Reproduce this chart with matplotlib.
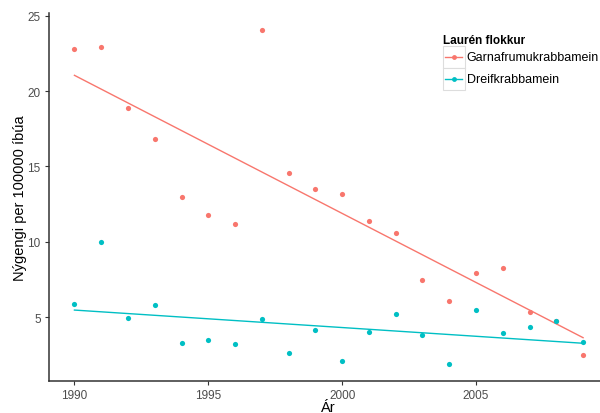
import numpy as np
import matplotlib
matplotlib.use("Agg")
import matplotlib.pyplot as plt
from matplotlib.lines import Line2D
from matplotlib.patches import Rectangle
from matplotlib.legend_handler import HandlerBase

plt.rcParams['font.family'] = ['Liberation Sans', 'DejaVu Sans']

years = list(range(1990, 2010))
garna = [22.8, 22.9, 18.85, 16.85, 13.0, 11.75, 11.17, 24.07, 14.55, 13.5,
         13.15, 11.37, 10.57, 7.48, 6.1, 7.92, 8.25, 5.37, 4.73, 2.52]
dreif = [5.9, 10.0, 4.98, 5.84, 3.3, 3.52, 3.23, 4.89, 2.63, 4.18,
         2.1, 4.05, 5.24, 3.85, 1.88, 5.46, 3.98, 4.38, 4.73, 3.34]
series_names = ['Garnafrumukrabbamein', 'Dreifkrabbamein']
colors = ['#F8766D', '#00BFC4']
xticks = [1990, 1995, 2000, 2005]
yticks = [5, 10, 15, 20, 25]


class BoxedLineHandler(HandlerBase):
    def create_artists(self, legend, orig_handle, xdescent, ydescent,
                       width, height, fontsize, trans):
        x0, y0 = -xdescent, -ydescent
        rect = Rectangle((x0, y0), width, height,
                         facecolor='white', edgecolor='#dddddd', lw=0.8,
                         transform=trans)
        yc = y0 + height / 2.0
        col = orig_handle.get_color()
        line = Line2D([x0 + 0.1 * width, x0 + 0.9 * width], [yc, yc],
                      color=col, lw=1.0, transform=trans)
        mark = Line2D([x0 + width / 2.0], [yc], color=col, marker='o',
                      markersize=3.5, markeredgewidth=0, linestyle='none',
                      transform=trans)
        return [rect, line, mark]


fig = plt.figure(figsize=(6.0, 4.14), dpi=100)
ax = fig.add_axes([49/600, 32/414, 559.5/600, 368/414])

x = np.array(years, dtype=float)
for vals, col in zip([garna, dreif], colors):
    v = np.array(vals)
    ax.scatter(x, v, s=14, color=col, zorder=3, linewidths=0)
    b, a = np.polyfit(x, v, 1)
    ax.plot([x.min(), x.max()], [a + b * x.min(), a + b * x.max()], color=col, lw=1.0, zorder=2)

ax.set_xlim(1989.05, 2009.95)
ax.set_ylim(0.77, 25.18)
ax.set_xticks(xticks)
ax.set_yticks(yticks)
for s in ['top', 'right']:
    ax.spines[s].set_visible(False)
for s in ['left', 'bottom']:
    ax.spines[s].set_color('#333333')
    ax.spines[s].set_linewidth(1.1)
ax.tick_params(axis='both', colors='#333333', labelcolor='#4d4d4d', labelsize=8.5, length=3, width=0.8, pad=3)
ax.set_xlabel('Ár', fontsize=10.5, labelpad=-1)
ax.set_ylabel('Nýgengi per 100000 íbúa', fontsize=10.5, labelpad=0.5)

handles = [Line2D([0], [0], color=c, lw=1.0, marker='o', markersize=3.5, markeredgewidth=0) for c in colors]
leg = ax.legend(handles, series_names, title='Laurén flokkur', loc='upper left',
                bbox_to_anchor=(0.688, 0.968), frameon=False, fontsize=9.0,
                title_fontproperties={'weight': 'bold', 'size': 8.5},
                handlelength=1.76, handleheight=2.33, handletextpad=0.15,
                labelspacing=0.0, borderpad=0.2,
                handler_map={Line2D: BoxedLineHandler()})
leg._legend_box.align = 'left'

fig.savefig('out.png', dpi=100)
